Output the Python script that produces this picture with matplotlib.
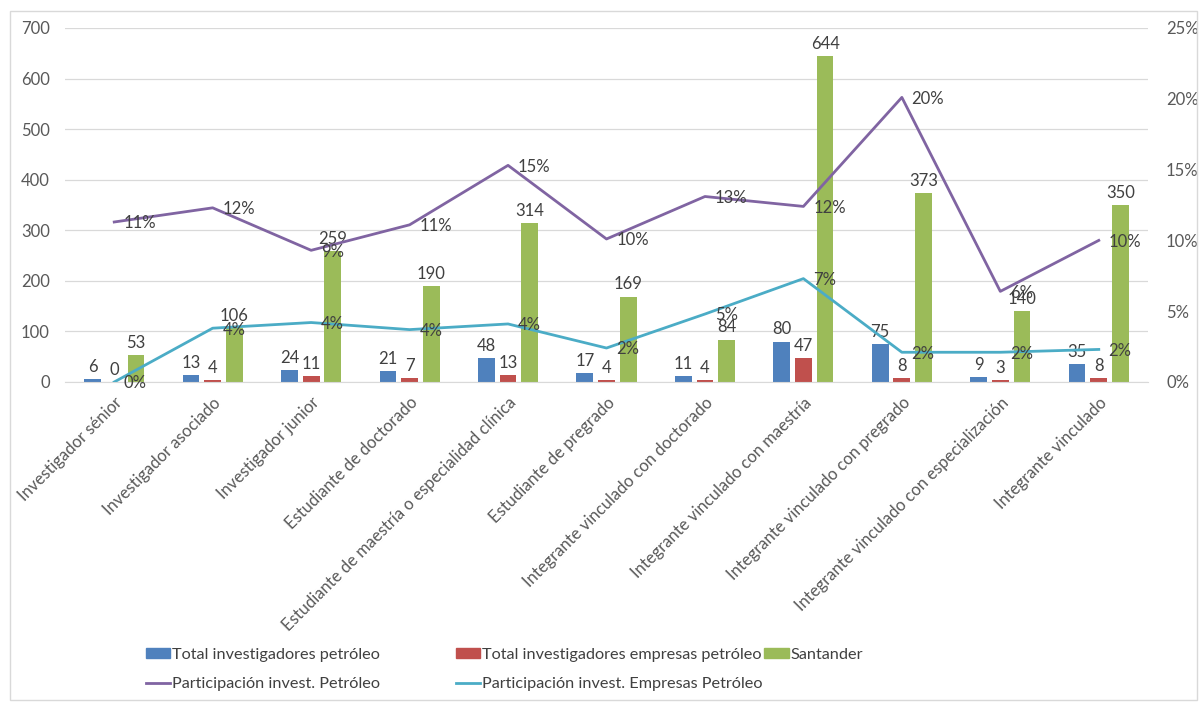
import matplotlib
matplotlib.use('Agg')
import matplotlib.pyplot as plt
from matplotlib.patches import Rectangle, Patch
from matplotlib.lines import Line2D
from matplotlib.ticker import FuncFormatter
import numpy as np

plt.rcParams.update({'font.family': ['Lato', 'DejaVu Sans'], 'font.size': 12})

categorias = ['Investigador sénior', 'Investigador asociado', 'Investigador junior',
              'Estudiante de doctorado', 'Estudiante de maestría o especialidad clínica',
              'Estudiante de pregrado', 'Integrante vinculado con doctorado',
              'Integrante vinculado con maestría', 'Integrante vinculado con pregrado',
              'Integrante vinculado con especialización', 'Integrante vinculado']
tot_petroleo = [6, 13, 24, 21, 48, 17, 11, 80, 75, 9, 35]
tot_empresas = [0, 4, 11, 7, 13, 4, 4, 47, 8, 3, 8]
santander = [53, 106, 259, 190, 314, 169, 84, 644, 373, 140, 350]
part_petroleo = [0.113, 0.123, 0.093, 0.111, 0.153, 0.101, 0.131, 0.124, 0.201, 0.064, 0.100]
part_empresas = [0.0, 0.038, 0.042, 0.037, 0.041, 0.024, 0.048, 0.073, 0.021, 0.021, 0.023]

C_BLUE = '#4F81BD'; C_RED = '#C0504D'; C_GREEN = '#9BBB59'
C_PURP = '#8064A2'; C_CYAN = '#4BACC6'
TXT = '#404040'; AXT = '#595959'; GRID = '#D9D9D9'

fig = plt.figure(figsize=(12, 7.08), dpi=100)
ax = fig.add_axes([65/1200, 1-382/708, (1148-65)/1200, (382-28)/708])
ax2 = ax.twinx()

x = np.arange(len(categorias))
w = 0.17; step = 0.22
for off, vals, col in [(-step, tot_petroleo, C_BLUE), (0, tot_empresas, C_RED), (step, santander, C_GREEN)]:
    ax.bar(x + off, vals, width=w, color=col, zorder=2)
    for xi, v in zip(x + off, vals):
        ax.annotate(str(v), xy=(xi, v), xytext=(0, 3), textcoords='offset points',
                    ha='center', va='bottom', color=TXT, fontsize=12, zorder=5)

ax.set_xlim(-0.5, len(categorias) - 0.5)
ax.set_ylim(0, 700)
ax.set_yticks(range(0, 701, 100))
ax.grid(axis='y', color=GRID, lw=0.9, zorder=0)
ax.set_axisbelow(True)
for s in ['top', 'left', 'right']:
    ax.spines[s].set_visible(False)
ax.spines['bottom'].set_color(GRID)
ax.tick_params(axis='y', length=0, colors=AXT, labelsize=12, pad=11)
ax.tick_params(axis='x', length=0, colors=AXT, labelsize=12, pad=9)
ax.set_xticks(x)
ax.set_xticklabels(categorias, rotation=45, ha='right', rotation_mode='anchor')

ax2.plot(x, part_petroleo, color=C_PURP, lw=2, zorder=3)
ax2.plot(x, part_empresas, color=C_CYAN, lw=2, zorder=3)
for vals in [part_petroleo, part_empresas]:
    for xi, v in zip(x, vals):
        ax2.annotate('{:.0f}%'.format(v * 100), xy=(xi, v), xytext=(7, -1), textcoords='offset points',
                     ha='left', va='center', color=TXT, fontsize=12)
ax2.set_ylim(0, 0.25)
ax2.set_yticks(np.arange(0, 0.2501, 0.05))
ax2.yaxis.set_major_formatter(FuncFormatter(lambda v, p: '{:.0f}%'.format(v * 100)))
for s in ['top', 'left', 'right', 'bottom']:
    ax2.spines[s].set_visible(False)
ax2.tick_params(axis='y', length=0, colors=AXT, labelsize=12, pad=13)

# legend split in two blocks like the Excel layout
h_blue = Patch(color=C_BLUE); h_red = Patch(color=C_RED); h_green = Patch(color=C_GREEN)
h_purp = Line2D([], [], color=C_PURP, lw=2); h_cyan = Line2D([], [], color=C_CYAN, lw=2)
kw = dict(frameon=False, fontsize=11.7, handlelength=1.5, handleheight=0.6, handletextpad=0.1,
          labelspacing=0.95, borderpad=0, borderaxespad=0, labelcolor=TXT, loc='upper left')
fig.legend([h_blue, h_purp], ['Total investigadores petróleo', 'Participación invest. Petróleo'],
           bbox_to_anchor=(146/1200, 1-648/708), **kw)
fig.legend([h_red, h_cyan, h_green],
           ['Total investigadores empresas petróleo', 'Participación invest. Empresas Petróleo', 'Santander'],
           bbox_to_anchor=(456/1200, 1-648/708), ncol=2, columnspacing=0.1, **kw)

fig.patches.append(Rectangle((10/1200, 8/708), 1187/1200, (700-11)/708, transform=fig.transFigure,
                             fill=False, edgecolor=GRID, lw=1))

fig.savefig('out.png', dpi=100)
